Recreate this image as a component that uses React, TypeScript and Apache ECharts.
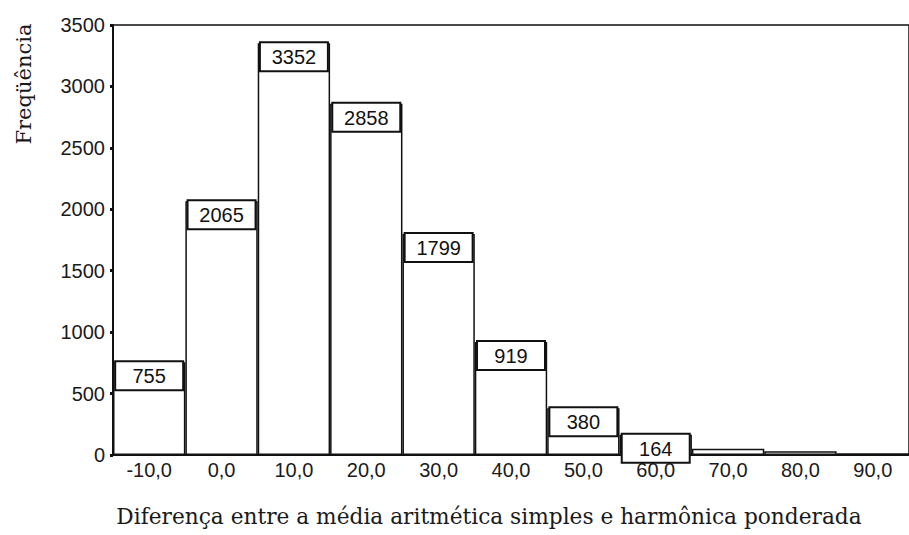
import React, { useEffect, useRef } from "react";
import * as echarts from "echarts";

const categories = ["-10,0", "0,0", "10,0", "20,0", "30,0", "40,0", "50,0", "60,0", "70,0", "80,0", "90,0"];
const frequencies = [755, 2065, 3352, 2858, 1799, 919, 380, 164, 50, 30, 15];
const labeledCount = 8;
const yAxisTitle = "Freqüência";
const xAxisTitle = "Diferença entre a média aritmética simples e harmônica ponderada";

export default function App() {
  const ref = useRef<HTMLDivElement>(null);
  useEffect(() => {
    if (!ref.current) return;
    const chart = echarts.init(ref.current, null, { renderer: "svg" });
    const numFont = "'Liberation Sans', Arial, sans-serif";
    chart.setOption({
      animation: false,
      backgroundColor: "#fff",
      grid: { left: 113, top: 25, bottom: 80, right: -6, show: true, borderColor: "#111", borderWidth: 1.5, backgroundColor: "transparent" },
      xAxis: {
        type: "category",
        data: categories,
        boundaryGap: true,
        axisLine: { lineStyle: { color: "#111", width: 2 } },
        axisTick: { alignWithLabel: true, length: 3, lineStyle: { color: "#111", width: 3 } },
        axisLabel: { color: "#1a1a1a", fontFamily: numFont, fontSize: 20, margin: 5 },
        splitLine: { show: false },
      },
      yAxis: {
        type: "value",
        min: 0,
        max: 3500,
        interval: 500,
        axisLine: { show: true, lineStyle: { color: "#111", width: 2 } },
        axisTick: { show: true, length: 3, lineStyle: { color: "#111", width: 3 } },
        axisLabel: { color: "#1a1a1a", fontFamily: numFont, fontSize: 20, margin: 8, formatter: (v: number) => String(v) },
        splitLine: { show: false },
      },
      series: [
        {
          type: "bar",
          data: frequencies.map((v, i) => ({
            value: v,
            label: { show: i < labeledCount },
          })),
          barWidth: "100%",
          itemStyle: { color: "#fff", borderColor: "#111", borderWidth: 1.5 },
          label: {
            position: "insideTop",
            distance: 0,
            color: "#111",
            fontFamily: numFont,
            fontSize: 20,
            width: 66,
            align: "center",
            padding: [4, 0, 3, 0],
            borderColor: "#111",
            borderWidth: 2,
            backgroundColor: "#fff",
          },
        },
      ],
      graphic: [
        {
          type: "text",
          x: 24,
          y: 84,
          rotation: Math.PI / 2,
          style: {
            text: yAxisTitle,
            font: "21px 'DejaVu Serif'",
            fill: "#1a1a1a",
            align: "center",
            verticalAlign: "middle",
          },
        },
        {
          type: "text",
          x: 489,
          y: 516,
          style: {
            text: xAxisTitle,
            font: "21.7px 'DejaVu Serif'",
            fill: "#1a1a1a",
            align: "center",
            verticalAlign: "middle",
          },
        },
      ],
    });
    return () => chart.dispose();
  }, []);
  return <div ref={ref} style={{ width: 909, height: 535, position: "absolute", left: 0, top: 0 }} />;
}
